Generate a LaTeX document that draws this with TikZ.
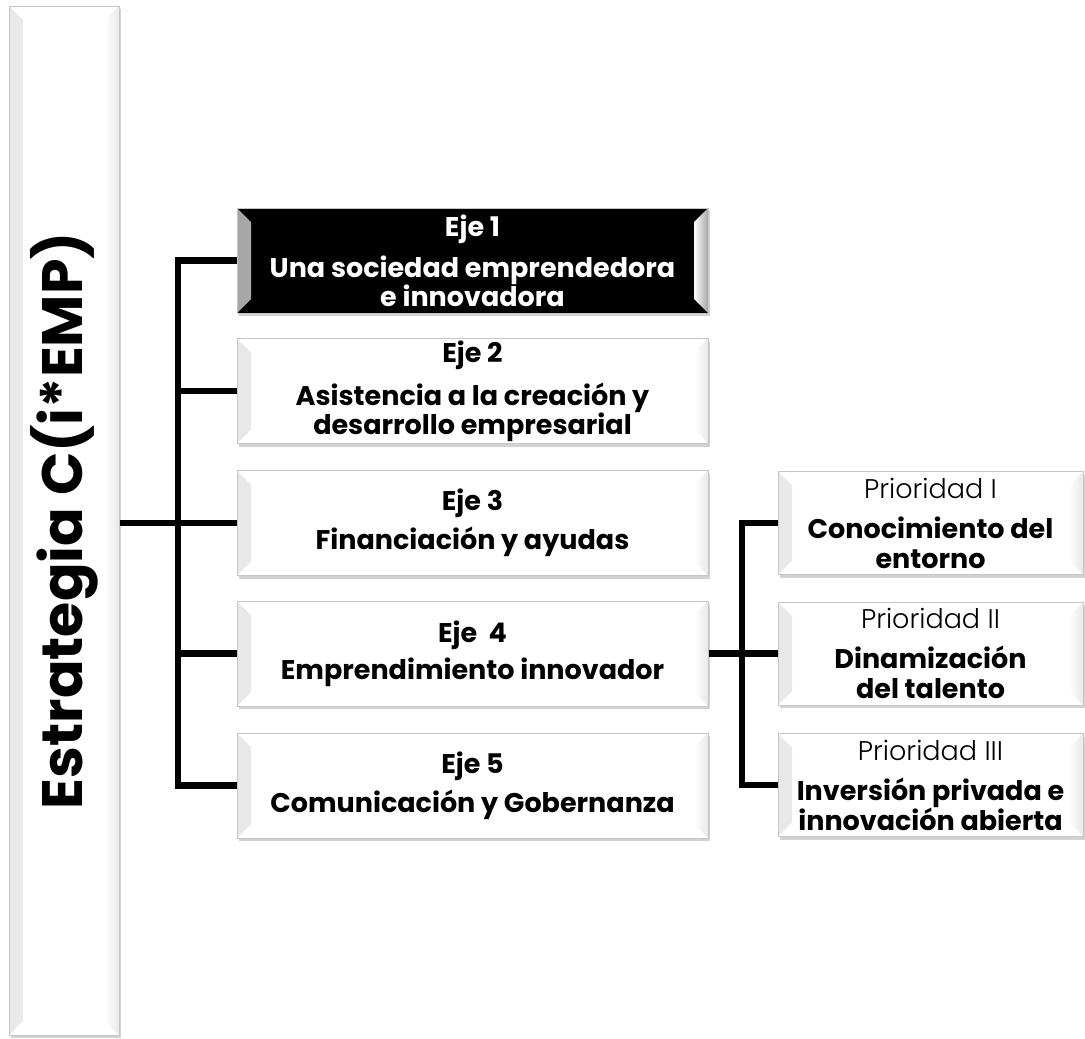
\documentclass[tikz,border=0pt]{standalone}
\usepackage{fontspec}
\setmainfont{Poppins}
\newfontfamily\lightfont{Poppins Light}
\usetikzlibrary{shadows}

\begin{document}
\begin{tikzpicture}[x=1pt,y=-1pt,
  bevel/.style={path picture={
    \shade[left color=#1,right color=white]
      (path picture bounding box.north west) -- ++(14,14)
      -- ([shift={(14,-14)}]path picture bounding box.south west)
      -- (path picture bounding box.south west) -- cycle;
    \shade[left color=white,right color=#1]
      (path picture bounding box.north east) -- ++(-14,14)
      -- ([shift={(-14,-14)}]path picture bounding box.south east)
      -- (path picture bounding box.south east) -- cycle;}},
  box/.style={draw=gray!45,line width=1pt,fill=white,bevel=gray!18,
    drop shadow={shadow xshift=2pt,shadow yshift=-3pt,fill=gray!70},
    align=center,inner sep=0pt},
  ejebox/.style={box,minimum width=471pt,minimum height=105pt,
    font=\fontsize{27}{29}\selectfont\bfseries},
  priobox/.style={box,minimum width=305pt,minimum height=103pt,
    font=\fontsize{27}{30}\selectfont\bfseries},
  conn/.style={line width=6.5pt}]
\useasboundingbox (0,0) rectangle (1085,1039);

% tall title box
\node[box,minimum width=110pt,minimum height=1029pt] (estrategia) at (64,520.5)
  {\rotatebox{90}{\fontsize{57}{57}\selectfont\bfseries Estrategia C(i*EMP)}};

% ejes
\node[ejebox,fill=black,text=white,bevel=gray!70] (eje1) at (472.5,260.5)
  {Eje 1\\[12pt]Una sociedad emprendedora\\e innovadora};
\node[ejebox] (eje2) at (472.5,391)
  {Eje 2\\[12pt]Asistencia a la creación y\\desarrollo empresarial};
\node[ejebox] (eje3) at (472.5,523)
  {Eje 3\\[8pt]Financiación y ayudas};
\node[ejebox] (eje4) at (472.5,653.5)
  {Eje\ \ 4\\[8pt]Emprendimiento innovador};
\node[ejebox] (eje5) at (472.5,785.5)
  {Eje 5\\[8pt]Comunicación y Gobernanza};

% prioridades del eje 4
\node[priobox] (prio1) at (930.5,523)
  {{\lightfont\mdseries Prioridad I}\\[10pt]Conocimiento del\\entorno};
\node[priobox] (prio2) at (930.5,653.5)
  {{\lightfont\mdseries Prioridad II}\\[10pt]Dinamización\\del talento};
\node[priobox] (prio3) at (930.5,785)
  {{\lightfont\mdseries Prioridad III}\\[10pt]Inversión privada e\\innovación abierta};

% connectors
\coordinate (fork) at (178,523);
\coordinate (subfork) at (742,653.5);
\draw[conn] (estrategia.east |- fork) -- (eje3.west);
\foreach \i in {1,...,5}
  \draw[conn] (fork) |- (eje\i.west);
\draw[conn] (eje4.east) -- (subfork);
\foreach \i in {1,2,3}
  \draw[conn] (subfork) |- (prio\i.west);
\end{tikzpicture}
\end{document}
